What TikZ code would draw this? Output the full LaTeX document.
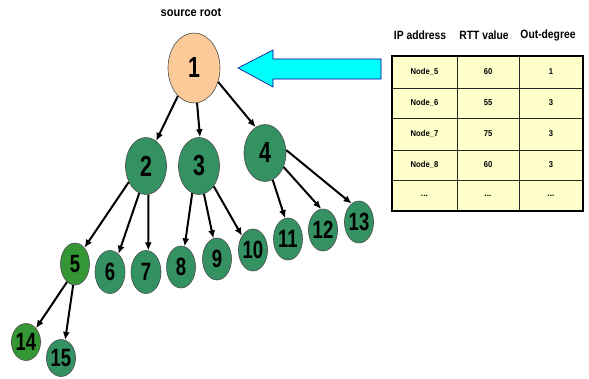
\documentclass[tikz,border=0pt]{standalone}
\usepackage{graphicx}
\usepackage{fontspec}
\setmainfont{Liberation Sans}
\usetikzlibrary{shapes.geometric,arrows.meta}
\definecolor{treegreen}{RGB}{51,145,98}
\definecolor{darkgreen}{RGB}{52,150,52}
\definecolor{peach}{RGB}{251,202,152}
\definecolor{tabfill}{RGB}{255,255,204}
\definecolor{arrowcyan}{RGB}{0,255,255}
\newcommand\bignum[1]{\fontsize{29}{29}\selectfont\scalebox{0.74}[1]{#1}}
\newcommand\smallnum[1]{\fontsize{25}{25}\selectfont\scalebox{0.74}[1]{#1}}
\begin{document}
\begin{tikzpicture}[x=1pt,y=-1pt,
  tn/.style={ellipse,draw=black!70,line width=0.6pt,inner sep=0pt,fill=treegreen,font=\bfseries},
  bignode/.style={tn,minimum width=41pt,minimum height=57pt},
  smallnode/.style={tn,minimum width=29pt,minimum height=42pt},
  tinynode/.style={tn,minimum width=27pt,minimum height=37pt},
  ed/.style={line width=2pt,-{Latex[length=8pt,width=7pt]}},
  hdr/.style={font=\bfseries\fontsize{12}{12}\selectfont,inner sep=0pt},
  cell/.style={font=\bfseries\fontsize{8.5}{8.5}\selectfont,inner sep=0pt}]
\useasboundingbox (0,0) rectangle (589,378);

% title
\node[font=\bfseries\fontsize{12.5}{12.5}\selectfont] (title) at (191,12) {\scalebox{0.88}[1]{source root}};

% tree nodes
\node[bignode,fill=peach,minimum width=52pt,minimum height=70pt] (n1) at (194,68) {\bignum{1}};
\node[bignode] (n2) at (146,166) {\bignum{2}};
\node[bignode] (n3) at (199,166) {\bignum{3}};
\node[bignode,minimum width=42pt] (n4) at (265,153) {\bignum{4}};
\node[smallnode,fill=darkgreen] (n5) at (75,264) {\smallnum{5}};
\node[smallnode,minimum width=30pt,minimum height=43pt] (n6) at (110,272) {\smallnum{6}};
\node[smallnode,minimum width=30pt,minimum height=43pt] (n7) at (146,272) {\smallnum{7}};
\node[smallnode] (n8) at (181,267) {\smallnum{8}};
\node[smallnode] (n9) at (217,259) {\smallnum{9}};
\node[smallnode] (n10) at (253,250) {\smallnum{10}};
\node[smallnode] (n11) at (288,239) {\smallnum{11}};
\node[smallnode] (n12) at (323,230) {\smallnum{12}};
\node[smallnode] (n13) at (359,222) {\smallnum{13}};
\node[tinynode,fill=darkgreen,minimum width=26pt] (n14) at (26,342) {\smallnum{14}};
\node[tinynode] (n15) at (61,358) {\smallnum{15}};

% edges
\draw[ed] (n1.240) -- (n2.68);
\draw[ed] (n1.275) -- (n3.88);
\draw[ed] (n1.330) -- (n4.110);
\draw[ed] (n2.223) -- (n5.60);
\draw[ed] (n2.256) -- (n6.65);
\draw[ed] (n2.275) -- (n7.84);
\draw[ed] (n3.256) -- (n8.80);
\draw[ed] (n3.280) -- (n9.100);
\draw[ed] (n3.306) -- (n10.128);
\draw[ed] (n4.286) -- (n11.98);
\draw[ed] (n4.323) -- (n12.95);
\draw[ed] (n4.8) -- (n13.112);
\draw[ed] (n5.246) -- (n14.54);
\draw[ed] (n5.265) -- (n15.77);

% big cyan arrow
\draw[draw=blue!55!black,fill=arrowcyan,line width=0.6pt]
  (238,68) -- (273,50) -- (273,59) -- (381,59) -- (381,79) -- (273,79) -- (273,87) -- cycle;

% table
\fill[tabfill] (392,56) rectangle (583,211);
\draw[line width=0.9pt,black!85]
  (457,56) -- (457,211) (519,56) -- (519,211)
  (392,88) -- (583,88) (392,118) -- (583,118)
  (392,150) -- (583,150) (392,180) -- (583,180);
\draw[line width=1.8pt] (392,56) rectangle (583,211);

\node[hdr] (h1) at (420,35) {\scalebox{0.86}[1]{IP address}};
\node[hdr] (h2) at (484,35) {\scalebox{0.86}[1]{RTT value}};
\node[hdr] (h3) at (548,35) {\scalebox{0.86}[1]{Out-degree}};

\node[cell] (a1) at (424.5,72) {\scalebox{0.9}[1]{Node\_5}};
\node[cell] (b1) at (488,72) {\scalebox{0.9}[1]{60}};
\node[cell] (c1) at (551,72) {\scalebox{0.9}[1]{1}};
\node[cell] (a2) at (424.5,103) {\scalebox{0.9}[1]{Node\_6}};
\node[cell] (b2) at (488,103) {\scalebox{0.9}[1]{55}};
\node[cell] (c2) at (551,103) {\scalebox{0.9}[1]{3}};
\node[cell] (a3) at (424.5,134) {\scalebox{0.9}[1]{Node\_7}};
\node[cell] (b3) at (488,134) {\scalebox{0.9}[1]{75}};
\node[cell] (c3) at (551,134) {\scalebox{0.9}[1]{3}};
\node[cell] (a4) at (424.5,165) {\scalebox{0.9}[1]{Node\_8}};
\node[cell] (b4) at (488,165) {\scalebox{0.9}[1]{60}};
\node[cell] (c4) at (551,165) {\scalebox{0.9}[1]{3}};
\node[cell] (a5) at (424.5,195.5) {...};
\node[cell] (b5) at (488,195.5) {...};
\node[cell] (c5) at (551,195.5) {...};
\end{tikzpicture}
\end{document}
